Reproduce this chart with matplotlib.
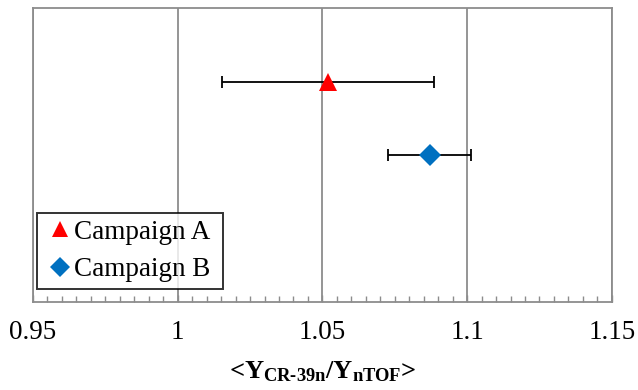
import matplotlib
matplotlib.use("Agg")
import matplotlib.pyplot as plt
from matplotlib.ticker import MultipleLocator

plt.rcParams["font.family"] = ["Liberation Serif", "DejaVu Serif"]
plt.rcParams["mathtext.fontset"] = "custom"
plt.rcParams["mathtext.rm"] = "Liberation Serif"
plt.rcParams["mathtext.bf"] = "Liberation Serif:bold"

# data
campaigns = ["Campaign A", "Campaign B"]
ratio = [1.052, 1.087]
ratio_err = [0.0366, 0.0143]
ypos = [3, 2]
markers = ["^", "D"]
colors = ["#FF0000", "#0070C0"]
sizes = [13.5, 11]

grid_col = "#8C8C8C"

fig = plt.figure(figsize=(6.38, 3.90), dpi=100)
ax = fig.add_axes([0.0517, 0.2256, 0.9073, 0.7534])

for name, x, err, y, m, c, s in zip(campaigns, ratio, ratio_err, ypos, markers, colors, sizes):
    ax.errorbar(x, y, xerr=err, fmt="none", ecolor="black", elinewidth=1.3,
                capsize=4.5, capthick=1.3, zorder=3)
    ax.plot(x, y, linestyle="none", marker=m, markersize=s, color=c,
            markeredgewidth=0, label=name, zorder=4)

ax.set_xlim(0.95, 1.15)
ax.set_ylim(0, 4)
ax.xaxis.set_minor_locator(MultipleLocator(0.005))
ax.set_xticks([0.95, 1.0, 1.05, 1.1, 1.15])
ax.set_xticklabels(["0.95", "1", "1.05", "1.1", "1.15"])
ax.set_yticks([])
ax.grid(axis="x", which="major", color=grid_col, linewidth=1.3)
ax.tick_params(axis="x", which="both", direction="in", color=grid_col,
               labelsize=19.5, pad=13)
ax.tick_params(axis="x", which="major", length=5, width=1)
ax.tick_params(axis="x", which="minor", length=4, width=1)
for sp in ax.spines.values():
    sp.set_color(grid_col)
    sp.set_linewidth(1.3)

ax.set_xlabel("<$\\mathbf{Y_{CR\u201039n}/Y_{nTOF}}$>", fontsize=19,
              fontweight="bold", labelpad=10)

leg = ax.legend(loc="lower left", bbox_to_anchor=(0.007, 0.044, 0.321, 0.26),
                mode="expand", fontsize=19.5, frameon=True, fancybox=False,
                edgecolor="black", handlelength=1.15, handletextpad=-0.05,
                borderpad=0.26, labelspacing=0.45, borderaxespad=0)
leg.get_frame().set_linewidth(1.4)
for h in leg.legend_handles:
    h.set_markersize(h.get_markersize() * 0.88)

fig.savefig("out.png", dpi=100)
